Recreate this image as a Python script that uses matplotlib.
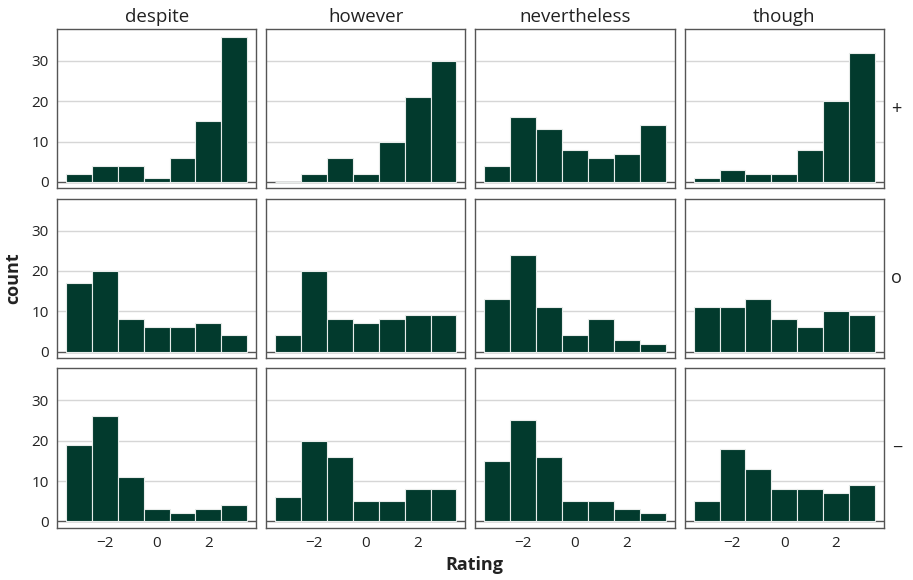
import matplotlib
matplotlib.use('Agg')
import matplotlib.pyplot as plt
import numpy as np

plt.rcParams['font.family'] = ['Open Sans', 'DejaVu Sans']

CONNECTIVES = ['despite', 'however', 'nevertheless', 'though']
CONDITIONS = ['+', 'o', '\u2212']
RATINGS = [-3, -2, -1, 0, 1, 2, 3]

# counts per rating, one list per (condition, connective)
plus_despite = [2, 4, 4, 1, 6, 15, 36]
plus_however = [0, 2, 6, 2, 10, 21, 30]
plus_nevertheless = [4, 16, 13, 8, 6, 7, 14]
plus_though = [1, 3, 2, 2, 8, 20, 32]

neutral_despite = [17, 20, 8, 6, 6, 7, 4]
neutral_however = [4, 20, 8, 7, 8, 9, 9]
neutral_nevertheless = [13, 24, 11, 4, 8, 3, 2]
neutral_though = [11, 11, 13, 8, 6, 10, 9]

minus_despite = [19, 26, 11, 3, 2, 3, 4]
minus_however = [6, 20, 16, 5, 5, 8, 8]
minus_nevertheless = [15, 25, 16, 5, 5, 3, 2]
minus_though = [5, 18, 13, 8, 8, 7, 9]

COUNTS = [
    [plus_despite, plus_however, plus_nevertheless, plus_though],
    [neutral_despite, neutral_however, neutral_nevertheless, neutral_though],
    [minus_despite, minus_however, minus_nevertheless, minus_though],
]

Y_TICKS = [0, 10, 20, 30]
X_TICKS = [-2, 0, 2]

BAR_COLOUR = '#023a2d'
EDGE_COLOUR = '#e8ecea'
GRID_COLOUR = '#d6d6d6'
FRAME_COLOUR = '#555555'
TEXT_COLOUR = '#222222'

fig, axes = plt.subplots(3, 4, figsize=(9.13, 5.8), dpi=100, sharex=True, sharey=True)
fig.subplots_adjust(left=0.0625, right=0.968, top=0.95, bottom=0.09,
                    wspace=0.05, hspace=0.065)

for r, cond in enumerate(CONDITIONS):
    for c, conn in enumerate(CONNECTIVES):
        ax = axes[r, c]
        ax.bar(RATINGS, COUNTS[r][c], width=1.0, color=BAR_COLOUR,
               edgecolor=EDGE_COLOUR, linewidth=0.8, zorder=3)
        for t in Y_TICKS[1:]:
            ax.axhline(t, color=GRID_COLOUR, linewidth=1.0, zorder=1)
        ax.axhline(0, color='#555555', linewidth=1.0, zorder=2)
        for s in ax.spines.values():
            s.set_color(FRAME_COLOUR)
            s.set_linewidth(1.0)
        ax.tick_params(length=0, labelsize=11, colors=TEXT_COLOUR, pad=6)
        if r == 0:
            ax.set_title(conn, fontsize=13.5, color=TEXT_COLOUR, pad=5)
        if c == 3:
            ax.text(1.065, 0.5, cond, transform=ax.transAxes, fontsize=13,
                    color=TEXT_COLOUR, ha='center', va='center')

ax = axes[0, 0]
ax.set_xlim(-3.85, 3.85)
ax.set_ylim(-1.6, 37.9)
ax.set_yticks(Y_TICKS)
ax.set_xticks(X_TICKS)
ax.set_xticklabels(['\u22122', '0', '2'])

fig.text(0.015, 0.52, 'count', rotation=90, fontsize=13, fontweight='bold',
         color=TEXT_COLOUR, ha='center', va='center')
fig.text(0.52, 0.025, 'Rating', fontsize=13, fontweight='bold',
         color=TEXT_COLOUR, ha='center', va='center')

fig.savefig('out.png', dpi=100)
